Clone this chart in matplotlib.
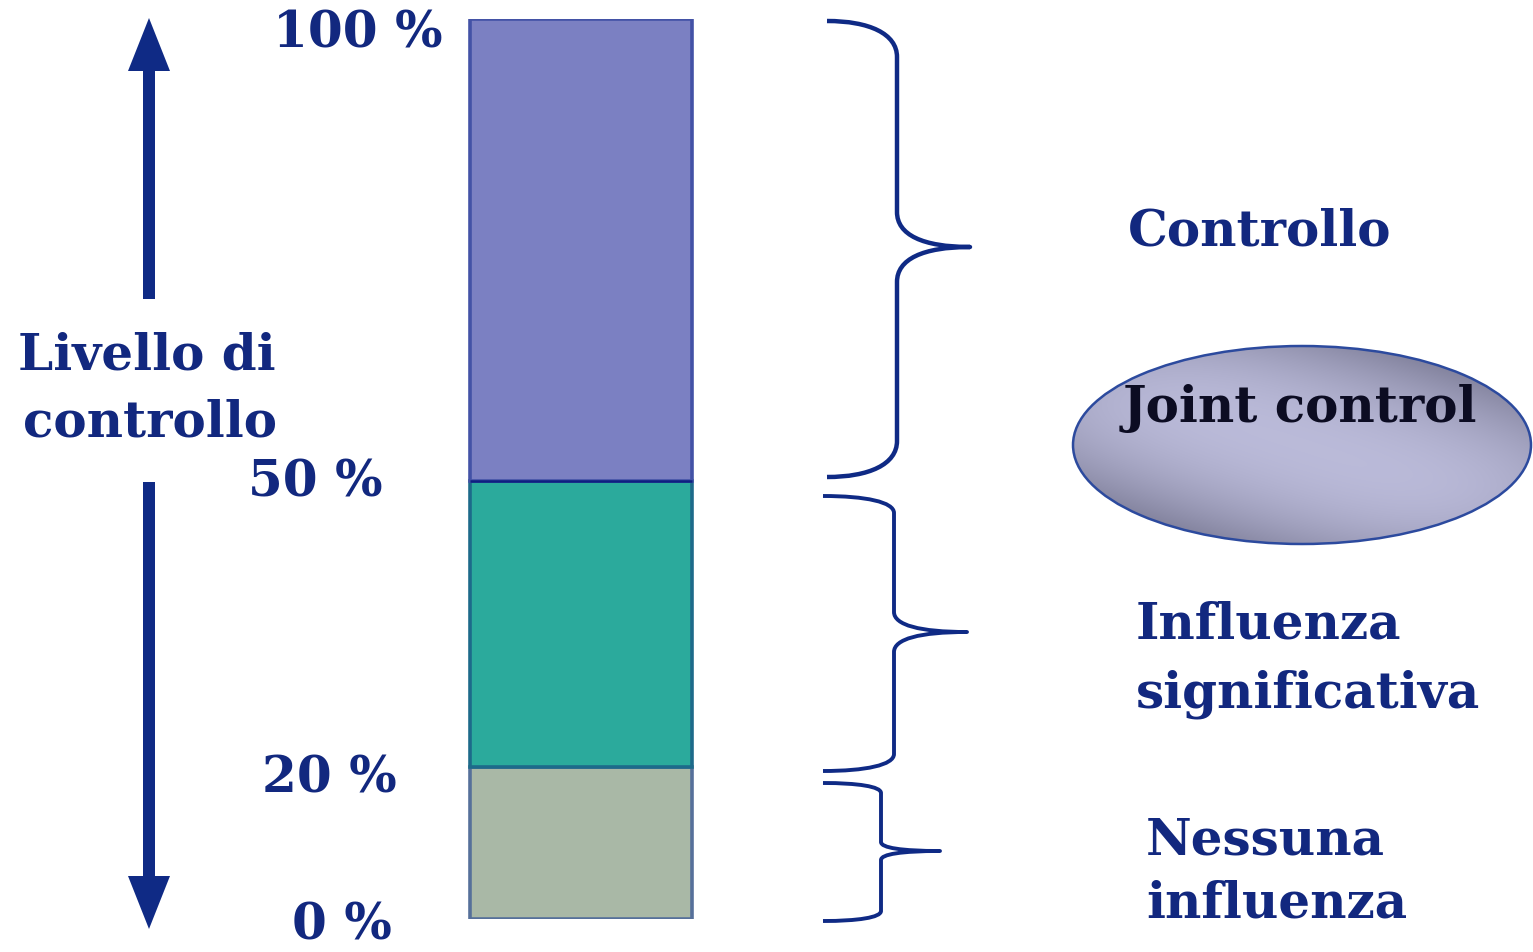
import numpy as np
import matplotlib
matplotlib.use("Agg")
import matplotlib.pyplot as plt
from matplotlib.patches import Ellipse, FancyArrow, PathPatch
from matplotlib.path import Path

# ---------------- data ----------------
segment_labels = ["Nessuna influenza", "Influenza significativa", "Controllo"]
segment_bottoms = [0, 20, 50]
segment_heights = [20, 30, 50]
tick_values = [100, 50, 20, 0]
tick_labels = ["100 %", "50 %", "20 %", "0 %"]
right_texts = ["Controllo", "Joint control", "Influenza\nsignificativa", "Nessuna\ninfluenza"]
axis_title = "Livello di\ncontrollo"

# ---------------- styles ----------------
W, H = 1533, 953
NAVY = "#0f2a85"
TEXT = "#12287f"
seg_colors = ["#a9b8a6", "#2baa9c", "#7b80c2"]
seg_edges = ["#56709a", "#1d6a8a", "#4352a6"]
FONT = "DejaVu Serif"
FS = 36

fig = plt.figure(figsize=(W / 100, H / 100), dpi=100)
fig.patch.set_facecolor("white")

# bar axes: piecewise scale so segments keep the reference proportions
pct_stops = [0, 20, 50, 100]
px_stops = [0, 152, 438, 900]

def fwd(v):
    return np.interp(v, pct_stops, px_stops)

def inv(p):
    return np.interp(p, px_stops, pct_stops)

ax_bar = fig.add_axes([0, (H - 920) / H, 1, 900 / H])
ax_bar.set_yscale("function", functions=(fwd, inv))
ax_bar.set_xlim(0, W)
ax_bar.set_ylim(0, 100)
ax_bar.axis("off")

ax_bar.bar([581] * 3, segment_heights, bottom=segment_bottoms, width=222,
           color=seg_colors, edgecolor=seg_edges, linewidth=2.6, zorder=2)
ax_bar.plot([470, 692], [50, 50], color="#0d2080", lw=1.8, zorder=3, solid_capstyle="butt")

tick_x = [443, 383, 397, 392]
tick_dy = [27, 15, 25, 28]
tick_va = ["baseline", "baseline", "baseline", "bottom"]
for v, lab, x, dy, va in zip(tick_values, tick_labels, tick_x, tick_dy, tick_va):
    if va == "bottom":
        dy = 31
    ax_bar.annotate(lab, xy=(x, v), xytext=(0, -dy * 0.72), textcoords="offset points",
                    ha="right", va=va, fontsize=FS, family=FONT,
                    fontweight="bold", color=TEXT, annotation_clip=False)

# overlay axes in pixel coordinates for decorations
ax = fig.add_axes([0, 0, 1, 1])
ax.set_xlim(0, W)
ax.set_ylim(H, 0)
ax.axis("off")
ax.patch.set_alpha(0)

# arrows
ax.add_patch(FancyArrow(149, 300, 0, -281, width=12, head_width=42, head_length=53,
                        length_includes_head=True, color=NAVY, lw=0))
ax.add_patch(FancyArrow(149, 483, 0, 447, width=12, head_width=42, head_length=53,
                        length_includes_head=True, color=NAVY, lw=0))

# axis title
l1, l2 = axis_title.split("\n")
ax.text(147, 370, l1, ha="center", va="baseline", fontsize=FS, family=FONT,
        fontweight="bold", color=TEXT)
ax.text(150, 437, l2, ha="center", va="baseline", fontsize=FS, family=FONT,
        fontweight="bold", color=TEXT)


def brace(x0, yt, yb, xs, xt, ym, r, r2, lw):
    verts = [
        (x0, yt),
        (x0 + 0.6 * (xs - x0), yt), (xs, yt + 0.35 * r), (xs, yt + r),
        (xs, ym - r2),
        (xs, ym - 0.35 * r2), (xs + 0.35 * (xt - xs), ym), (xt, ym),
        (xs + 0.35 * (xt - xs), ym), (xs, ym + 0.35 * r2), (xs, ym + r2),
        (xs, yb - r),
        (xs, yb - 0.35 * r), (x0 + 0.6 * (xs - x0), yb), (x0, yb),
    ]
    codes = [Path.MOVETO,
             Path.CURVE4, Path.CURVE4, Path.CURVE4,
             Path.LINETO,
             Path.CURVE4, Path.CURVE4, Path.CURVE4,
             Path.CURVE4, Path.CURVE4, Path.CURVE4,
             Path.LINETO,
             Path.CURVE4, Path.CURVE4, Path.CURVE4]
    ax.add_patch(PathPatch(Path(verts, codes), fill=False, edgecolor=NAVY, lw=lw,
                           capstyle="butt", joinstyle="round"))

brace(827, 22, 478, 897, 970, 248, 36, 35, 3.2)
brace(823, 497, 772, 894, 967, 633, 17, 20, 2.8)
brace(823, 784, 922, 881, 940, 852, 10, 9, 2.8)

# ellipse with gradient
ecx, ecy, ew, eh = 1302, 446, 458, 198
ell = Ellipse((ecx, ecy), ew, eh, facecolor="none", edgecolor="#2c4a9e", lw=1.8, zorder=5)
ax.add_patch(ell)
nx, ny = 300, 140
u = np.linspace(-1, 1, nx)[None, :]
v = np.linspace(-1, 1, ny)[:, None]
d = (-0.75 * u + v) / np.hypot(1, 0.75)
t = np.clip(1 - (np.abs(d) / 1.25) ** 2, 0, 1)
t = t * np.clip(1 - 0.12 * (u ** 2 + v ** 2) ** 2, 0, 1)
dark = np.array([0.42, 0.42, 0.52])
light = np.array([0.73, 0.73, 0.85])
img = dark[None, None, :] + t[:, :, None] * (light - dark)[None, None, :]
im = ax.imshow(img, extent=[ecx - ew / 2, ecx + ew / 2, ecy + eh / 2, ecy - eh / 2],
               origin="upper", aspect="auto", zorder=4, interpolation="bilinear")
clip = Ellipse((ecx, ecy), ew, eh, transform=ax.transData, facecolor="none", edgecolor="none")
ax.add_patch(clip)
im.set_clip_path(clip)
ax.set_xlim(0, W)
ax.set_ylim(H, 0)

# right-hand texts
ax.text(1128, 245, right_texts[0], ha="left", va="baseline", fontsize=FS, family=FONT,
        fontweight="bold", color=TEXT)
ax.text(1123, 422, right_texts[1], ha="left", va="baseline", fontsize=FS, family=FONT,
        fontweight="bold", color="#0c0c22", zorder=6)
a, b = right_texts[2].split("\n")
ax.text(1136, 639, a, ha="left", va="baseline", fontsize=FS, family=FONT,
        fontweight="bold", color=TEXT)
ax.text(1136, 708, b, ha="left", va="baseline", fontsize=FS, family=FONT,
        fontweight="bold", color=TEXT)
a, b = right_texts[3].split("\n")
ax.text(1146, 855, a, ha="left", va="baseline", fontsize=FS, family=FONT,
        fontweight="bold", color=TEXT)
ax.text(1146, 918, b, ha="left", va="baseline", fontsize=FS, family=FONT,
        fontweight="bold", color=TEXT)

fig.savefig("out.png", dpi=100)
